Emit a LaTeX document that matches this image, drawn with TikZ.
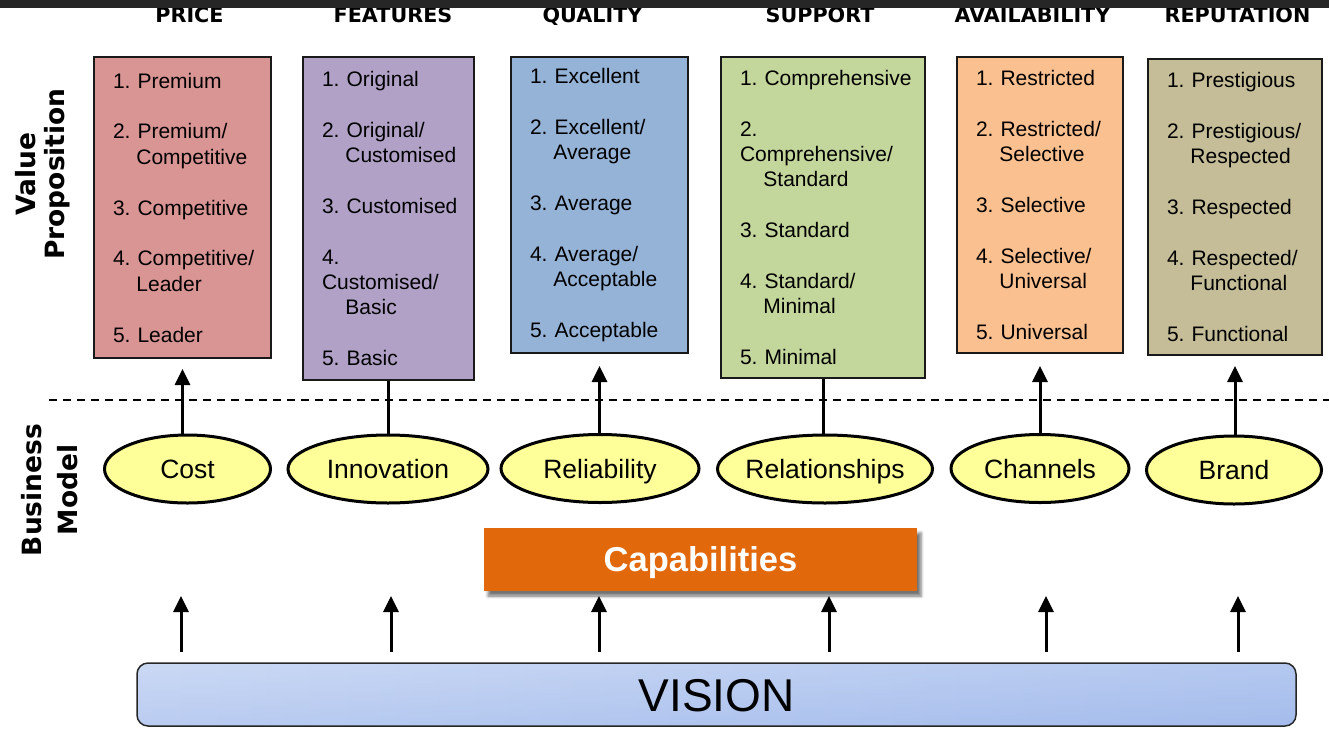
\documentclass[tikz,border=0pt]{standalone}
\usepackage{fontspec}
\setmainfont{Liberation Sans}
\newfontfamily\headfont{DejaVu Sans}
\usetikzlibrary{arrows.meta,shapes.geometric,shadows.blur}

% no hyphenation in the item lists
\hyphenpenalty=10000
\exhyphenpenalty=10000

% palette
\definecolor{topbar}{HTML}{262626}
\definecolor{priceC}{HTML}{D99594}
\definecolor{featC}{HTML}{B2A1C7}
\definecolor{qualC}{HTML}{95B3D7}
\definecolor{suppC}{HTML}{C3D69B}
\definecolor{availC}{HTML}{FAC090}
\definecolor{repC}{HTML}{C4BD97}
\definecolor{driverC}{HTML}{FFFF99}
\definecolor{capC}{HTML}{E2680C}
\definecolor{visLeft}{HTML}{D8E3F7}
\definecolor{visRight}{HTML}{90ADE8}
\definecolor{visTop}{HTML}{E6EDFA}
\definecolor{visBottom}{HTML}{93AFE8}

% gradients of the vision bar: left to right, plus a top-to-bottom veil
\pgfdeclarehorizontalshading{visionH}{100bp}{color(0bp)=(visLeft); color(100bp)=(visRight)}
\pgfdeclareverticalshading{visionV}{100bp}{color(0bp)=(visBottom); color(100bp)=(visTop)}

% list helpers: blank line between items, indent of wrapped lines
\newcommand\itemgap{\\[25.4pt]}
\newcommand\subind{\hspace*{23.4pt}}

\tikzset{
  header/.style={font=\headfont\bfseries\fontsize{20.7}{24}\selectfont, anchor=base, inner sep=0pt},
  sidelabel/.style={font=\headfont\bfseries\fontsize{26.5}{#1}\selectfont, rotate=90, align=center, inner sep=0pt},
  valbox/.style={draw=black!90, line width=2pt, anchor=north west, inner xsep=19pt, inner ysep=0pt,
    align=left, font=\fontsize{21}{25.4}\selectfont},
  driver/.style={ellipse, draw=black, line width=3pt, fill=driverC, inner sep=0pt,
    minimum height=68pt, text height=19pt, text depth=0pt, font=\fontsize{26.5}{30}\selectfont},
  uparrow/.style={line width=3pt, -{Triangle[length=16pt,width=15pt]}},
  link/.style={line width=3pt},
  capbox/.style={fill=capC, minimum width=433pt, minimum height=63pt, inner sep=0pt,
    text=white, text height=24pt, text depth=0pt, font=\bfseries\fontsize{34.5}{40}\selectfont,
    blur shadow={shadow xshift=4pt, shadow yshift=-5pt, shadow blur radius=3pt, shadow opacity=55}},
  visionbar/.style={draw=black!85, line width=1.5pt, rounded corners=11pt, minimum width=1159pt,
    minimum height=63pt, shading=visionH,
    path picture={\shade[shading=visionV, opacity=0.4]
      (path picture bounding box.south west) rectangle (path picture bounding box.north east);},
    font=\fontsize{46}{50}\selectfont, text height=33pt, text depth=0pt, inner sep=0pt}
}

\begin{document}
\begin{tikzpicture}[x=1pt, y=-1pt]
\useasboundingbox (0,0) rectangle (1329,728);

% column headers
\node[header] (hPrice) at (189.5,22) {PRICE};
\node[header] (hFeat)  at (393,22)   {FEATURES};
\node[header] (hQual)  at (592.5,22) {QUALITY};
\node[header] (hSupp)  at (820,22)   {SUPPORT};
\node[header] (hAvail) at (1032.5,22) {AVAILABILITY};
\node[header] (hRep)   at (1237.5,22) {REPUTATION};

% dark strip along the top edge
\fill[topbar] (0,0) rectangle (1329,8);

% row labels
\node[sidelabel=29] (vp) at (43,174) {Value\\Proposition};
\node[sidelabel=36] (bm) at (50,490) {Business\\Model};

% value proposition boxes
\node[valbox, fill=priceC, text width=139pt, minimum height=301pt] (price) at (93,56)
  {1.~Premium\itemgap 2.~Premium/\\\subind Competitive\itemgap 3.~Competitive\itemgap
   4.~Competitive/\\\subind Leader\itemgap 5.~Leader};
\node[valbox, fill=featC, text width=133pt, minimum height=323pt] (feat) at (302,56)
  {1.~Original\itemgap 2.~Original/\\\subind Customised\itemgap 3.~Customised\itemgap
   4.\\Customised/\\\subind Basic\itemgap 5.~Basic};
\node[valbox, fill=qualC, text width=139pt, minimum height=296pt] (qual) at (510,56)
  {1.~Excellent\itemgap 2.~Excellent/\\\subind Average\itemgap 3.~Average\itemgap
   4.~Average/\\\subind Acceptable\itemgap 5.~Acceptable};
\node[valbox, fill=suppC, text width=166pt, minimum height=321pt] (supp) at (720,56)
  {1.~Comprehensive\itemgap 2.\\Comprehensive/\\\subind Standard\itemgap 3.~Standard\itemgap
   4.~Standard/\\\subind Minimal\itemgap 5.~Minimal};
\node[valbox, fill=availC, text width=128pt, minimum height=296pt] (avail) at (956,56)
  {1.~Restricted\itemgap 2.~Restricted/\\\subind Selective\itemgap 3.~Selective\itemgap
   4.~Selective/\\\subind Universal\itemgap 5.~Universal};
\node[valbox, fill=repC, text width=136pt, minimum height=296pt] (rep) at (1147,58)
  {1.~Prestigious\itemgap 2.~Prestigious/\\\subind Respected\itemgap 3.~Respected\itemgap
   4.~Respected/\\\subind Functional\itemgap 5.~Functional};

% separator between the two layers
\draw[line width=1.5pt, dash pattern=on 8pt off 6pt] (49,400) -- (1329,400);

% business model drivers
\node[driver, minimum width=166pt] (cost)  at (187.5,469) {\makebox[0pt]{Cost}};
\node[driver, minimum width=200pt] (innov) at (388,469)   {\makebox[0pt]{Innovation}};
\node[driver, minimum width=198pt] (reli)  at (600,468.5) {\makebox[0pt]{Reliability}};
\node[driver, minimum width=215pt] (rela)  at (825,469)   {\makebox[0pt]{Relationships}};
\node[driver, minimum width=178pt] (chan)  at (1040,468.5) {\makebox[0pt]{Channels}};
\node[driver, minimum width=175pt] (brand) at (1234,470)  {\makebox[0pt]{Brand}};

% drivers feeding the value proposition
\draw[uparrow, shorten >=10pt] (cost.north -| price.south) -- (price.south);
\draw[link] (innov.north -| feat.south) -- (feat.south);
\draw[uparrow, shorten >=12pt] (reli.north -| qual.south) -- (qual.south);
\draw[link] (rela.north -| supp.south) -- (supp.south);
\draw[uparrow, shorten >=12pt] (chan.north -| avail.south) -- (avail.south);
\draw[uparrow, shorten >=10pt] (brand.north -| rep.south) -- (rep.south);

% capabilities
\node[capbox] (cap) at (700.5,559.5) {Capabilities};

% vision
\node[visionbar] (vision) at (716.5,694.5) {VISION};

% arrows rising from the vision
\coordinate (up1) at (181,596);
\coordinate (up2) at (391,596);
\coordinate (up3) at (599,596);
\coordinate (up4) at (829,596);
\coordinate (up5) at (1046,596);
\coordinate (up6) at (1238,596);
\foreach \c in {up1,up2,up3,up4,up5,up6}
  \draw[uparrow, shorten <=10pt] (vision.north -| \c) -- (\c);
\end{tikzpicture}
\end{document}
